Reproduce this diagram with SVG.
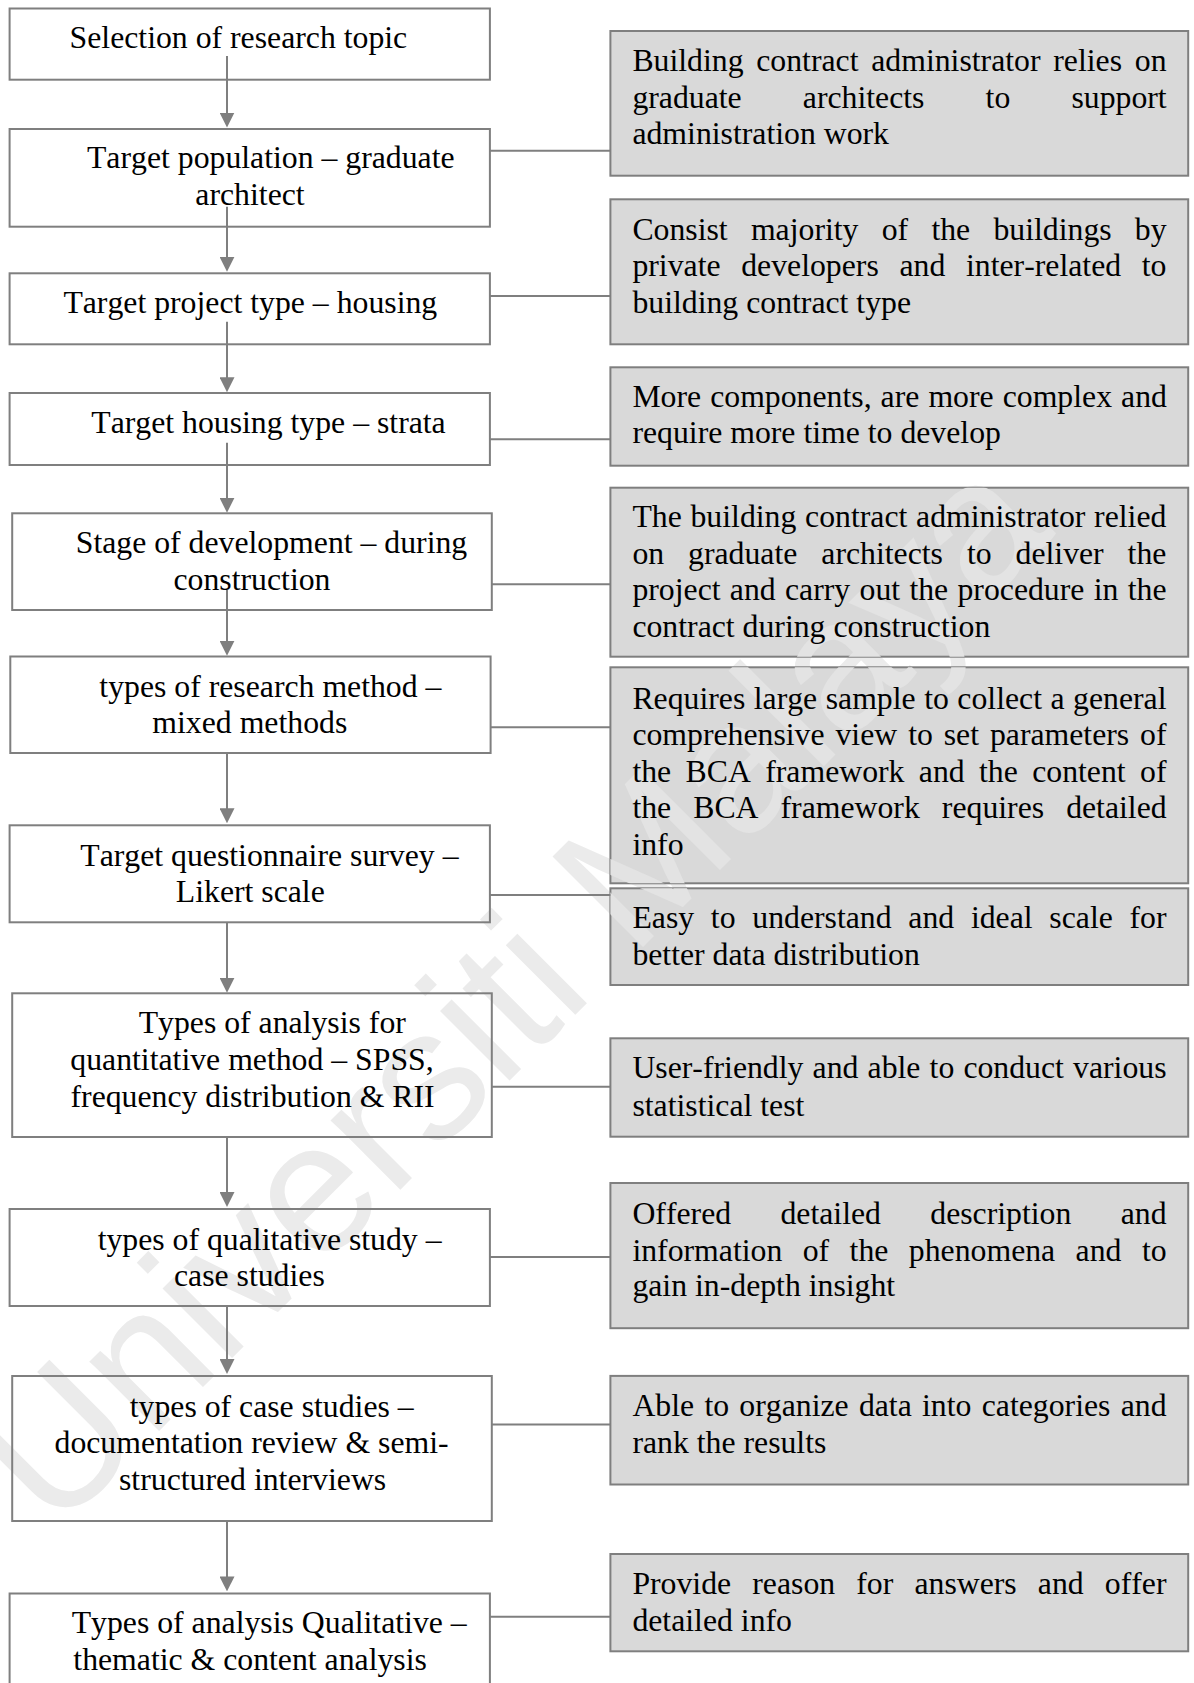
<svg xmlns="http://www.w3.org/2000/svg" xmlns:xlink="http://www.w3.org/1999/xlink" width="1194" height="1683" viewBox="0 0 1194 1683">
<defs>
<style>
.step{fill:none;stroke:#7f7f7f;stroke-width:2}
.note{fill:#d9d9d9;stroke:#7f7f7f;stroke-width:2}
text{font-family:"Liberation Serif","Times New Roman",serif;font-size:31.75px;font-kerning:none}
.m{text-anchor:middle}
.wire{stroke:#7f7f7f;stroke-width:2;fill:none}
.flow{stroke:#7f7f7f;stroke-width:2;fill:none;marker-end:url(#ah)}
.wm{font-family:"Liberation Sans",Arial,sans-serif;font-size:186px}
</style>
<marker id="ah" markerUnits="userSpaceOnUse" viewBox="0 0 15 15" markerWidth="15" markerHeight="15" refX="5" refY="7.5" orient="auto"><path d="M0,0 L15,7.5 L0,15 z" fill="#7f7f7f"/></marker>
<text id="wmt" class="wm" transform="translate(55,1535) rotate(-45)">Universiti Malaya</text>
<clipPath id="c3"><rect x="610.4" y="367.3" width="577.8" height="98.4"/></clipPath>
<clipPath id="c4"><rect x="610.4" y="487.7" width="577.8" height="169"/></clipPath>
<clipPath id="c5"><rect x="610.4" y="667.3" width="577.8" height="216"/></clipPath>
<clipPath id="c6"><rect x="610.4" y="888.3" width="577.8" height="96.7"/></clipPath>
</defs>
<rect width="1194" height="1683" fill="#fff"/>
<g id="watermark"><use href="#wmt" xlink:href="#wmt" fill="#ebebeb"/></g>

<g id="n1"><rect class="step" x="9.6" y="8.5" width="480.3" height="71.2"/><text class="m" x="238.4" y="48.3">Selection of research topic</text></g>
<g id="n2"><rect class="step" x="9.6" y="129" width="480.3" height="97.7"/><text class="m" x="270.8" y="168.3">Target population – graduate</text><text class="m" x="250" y="205">architect</text></g>
<g id="n3"><rect class="step" x="9.6" y="273.3" width="480.3" height="71"/><text class="m" x="250.3" y="313.3">Target project type – housing</text></g>
<g id="n4"><rect class="step" x="9.6" y="393" width="480.3" height="72"/><text class="m" x="268.5" y="433.3">Target housing type – strata</text></g>
<g id="n5"><rect class="step" x="12.2" y="513.3" width="479.6" height="96.7"/><text class="m" x="271.5" y="552.7">Stage of development – during</text><text class="m" x="252" y="590">construction</text></g>
<g id="n6"><rect class="step" x="10.3" y="656.5" width="480.3" height="96.5"/><text class="m" x="270.4" y="696.7">types of research method –</text><text class="m" x="249.8" y="733">mixed methods</text></g>
<g id="n7"><rect class="step" x="9.6" y="825.3" width="480.3" height="97"/><text class="m" x="269.4" y="865.7">Target questionnaire survey –</text><text class="m" x="250.3" y="901.7">Likert scale</text></g>
<g id="n8"><rect class="step" x="12.2" y="993.3" width="479.6" height="143.7"/><text class="m" x="272.3" y="1033.3">Types of analysis for</text><text class="m" x="252" y="1070">quantitative method – SPSS,</text><text class="m" x="252.6" y="1106.7">frequency distribution &amp; RII</text></g>
<g id="n9"><rect class="step" x="9.6" y="1209" width="480.3" height="97"/><text class="m" x="269.6" y="1249.5">types of qualitative study –</text><text class="m" x="249.4" y="1286">case studies</text></g>
<g id="n10"><rect class="step" x="12.2" y="1376" width="479.6" height="145"/><text class="m" x="271.7" y="1416.5">types of case studies –</text><text class="m" x="251.6" y="1453">documentation review &amp; semi-</text><text class="m" x="252.6" y="1489.5">structured interviews</text></g>
<g id="n11"><rect class="step" x="9.6" y="1593.5" width="480.3" height="100"/><text class="m" x="269.2" y="1633">Types of analysis Qualitative –</text><text class="m" x="250.1" y="1669.5">thematic &amp; content analysis</text></g>

<g id="r1"><rect class="note" x="610.4" y="31" width="577.8" height="144.7"/><text x="632.4" y="71.2" style="word-spacing:4.8px">Building contract administrator relies on</text><text x="632.4" y="107.7" style="word-spacing:53.2px">graduate architects to support</text><text x="632.4" y="144.3">administration work</text></g>
<g id="r2"><rect class="note" x="610.4" y="199.3" width="577.8" height="145"/><text x="632.4" y="239.5" style="word-spacing:15.3px">Consist majority of the buildings by</text><text x="632.4" y="276" style="word-spacing:12.75px">private developers and inter-related to</text><text x="632.4" y="312.5">building contract type</text></g>
<g id="r3"><rect class="note" x="610.4" y="367.3" width="577.8" height="98.4"/><use href="#wmt" xlink:href="#wmt" fill="#e3e3e3" clip-path="url(#c3)"/><text x="632.4" y="406.7" style="word-spacing:1.1px">More components, are more complex and</text><text x="632.4" y="443.2">require more time to develop</text></g>
<g id="r4"><rect class="note" x="610.4" y="487.7" width="577.8" height="169"/><use href="#wmt" xlink:href="#wmt" fill="#e3e3e3" clip-path="url(#c4)"/><text x="632.4" y="527.3" style="word-spacing:0.8px">The building contract administrator relied</text><text x="632.4" y="563.8" style="word-spacing:16px">on graduate architects to deliver the</text><text x="632.4" y="600.3" style="word-spacing:1.37px">project and carry out the procedure in the</text><text x="632.4" y="636.8">contract during construction</text></g>
<g id="r5"><rect class="note" x="610.4" y="667.3" width="577.8" height="216"/><use href="#wmt" xlink:href="#wmt" fill="#e3e3e3" clip-path="url(#c5)"/><text x="632.4" y="708.5" style="word-spacing:0.57px">Requires large sample to collect a general</text><text x="632.4" y="745" style="word-spacing:2.98px">comprehensive view to set parameters of</text><text x="632.4" y="781.5" style="word-spacing:6.43px">the BCA framework and the content of</text><text x="632.4" y="818" style="word-spacing:14.1px">the BCA framework requires detailed</text><text x="632.4" y="854.5">info</text></g>
<g id="r6"><rect class="note" x="610.4" y="888.3" width="577.8" height="96.7"/><use href="#wmt" xlink:href="#wmt" fill="#e3e3e3" clip-path="url(#c6)"/><text x="632.4" y="928.3" style="word-spacing:8.8px">Easy to understand and ideal scale for</text><text x="632.4" y="965">better data distribution</text></g>
<g id="r7"><rect class="note" x="610.4" y="1038.3" width="577.8" height="98.4"/><text x="632.4" y="1078.3" style="word-spacing:1.2px">User-friendly and able to conduct various</text><text x="632.4" y="1115.7">statistical test</text></g>
<g id="r8"><rect class="note" x="610.4" y="1183" width="577.8" height="145.2"/><text x="632.4" y="1223.5" style="word-spacing:41.4px">Offered detailed description and</text><text x="632.4" y="1260.5" style="word-spacing:12.5px">information of the phenomena and to</text><text x="632.4" y="1296">gain in-depth insight</text></g>
<g id="r9"><rect class="note" x="610.4" y="1375.9" width="577.8" height="108.6"/><text x="632.4" y="1415.7" style="word-spacing:2.33px">Able to organize data into categories and</text><text x="632.4" y="1452.7">rank the results</text></g>
<g id="r10"><rect class="note" x="610.4" y="1554" width="577.8" height="97.3"/><text x="632.4" y="1593.8" style="word-spacing:13.2px">Provide reason for answers and offer</text><text x="632.4" y="1630.9">detailed info</text></g>

<g id="connectors">
<line class="flow" x1="227" y1="56" x2="227" y2="117.5"/>
<line class="flow" x1="227" y1="206.7" x2="227" y2="261.7"/>
<line class="flow" x1="227" y1="321.7" x2="227" y2="382.3"/>
<line class="flow" x1="227" y1="442.7" x2="227" y2="502.7"/>
<line class="flow" x1="227" y1="590" x2="227" y2="645.7"/>
<line class="flow" x1="227" y1="753" x2="227" y2="813.3"/>
<line class="flow" x1="227" y1="922.3" x2="227" y2="982.7"/>
<line class="flow" x1="227" y1="1137" x2="227" y2="1197"/>
<line class="flow" x1="227" y1="1306" x2="227" y2="1364"/>
<line class="flow" x1="227" y1="1521" x2="227" y2="1581.4"/>
<line class="wire" x1="489.9" y1="150.7" x2="610.4" y2="150.7"/>
<line class="wire" x1="489.9" y1="296" x2="610.4" y2="296"/>
<line class="wire" x1="489.9" y1="439.3" x2="610.4" y2="439.3"/>
<line class="wire" x1="491.8" y1="584.3" x2="610.4" y2="584.3"/>
<line class="wire" x1="490.6" y1="727.3" x2="610.4" y2="727.3"/>
<line class="wire" x1="489.9" y1="895" x2="610.4" y2="895"/>
<line class="wire" x1="491.8" y1="1086.7" x2="610.4" y2="1086.7"/>
<line class="wire" x1="489.9" y1="1257" x2="610.4" y2="1257"/>
<line class="wire" x1="491.8" y1="1424.5" x2="610.4" y2="1424.5"/>
<line class="wire" x1="489.9" y1="1616.8" x2="610.4" y2="1616.8"/>
</g>
</svg>
